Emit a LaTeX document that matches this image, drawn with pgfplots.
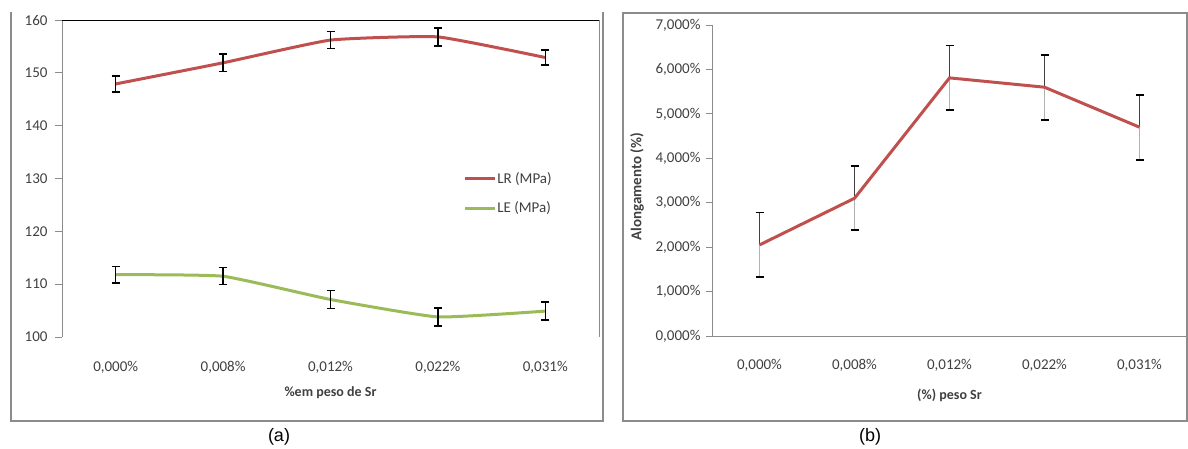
\documentclass[border=0pt]{standalone}
\usepackage{fontspec}
\setmainfont{Carlito}
\newfontfamily\arialfont{Liberation Sans}
\usepackage{pgfplots}
\usepackage{pgfplotstable}
\pgfplotsset{compat=1.18}
\definecolor{lrred}{HTML}{C0504D}
\definecolor{legreen}{HTML}{9BBB59}
\definecolor{axgray}{HTML}{8C8C8C}
\definecolor{txt}{HTML}{404040}

\pgfplotstableread{
x  y      e
0  147.9  1.5
1  151.9  1.7
2  156.2  1.6
3  156.8  1.7
4  152.9  1.45
}\lrdata
\pgfplotstableread{
x  y      e
0  111.8  1.6
1  111.5  1.6
2  107.1  1.7
3  103.8  1.7
4  104.9  1.7
}\ledata
\pgfplotstableread{
x  y     e
0  2.05  0.73
1  3.10  0.72
2  5.81  0.73
3  5.60  0.73
4  4.70  0.73
}\aldata

\begin{document}
\begin{tikzpicture}[x=1pt,y=1pt]
\path[use as bounding box] (0,0) rectangle (1188,448);
% panel frames
\draw[axgray, line width=1.5pt] (11,436) -- (11,27) -- (603,27) -- (603,436);
\draw[axgray, line width=1.5pt] (623,435) rectangle (1187,27);
\node[font=\arialfont\fontsize{18}{20}\selectfont] at (279,11) {(a)};
\node[font=\arialfont\fontsize{18}{20}\selectfont] at (870,11) {(b)};

\begin{axis}[
  at={(62pt,111pt)}, anchor=south west,
  width=537pt, height=317pt, scale only axis,
  xmin=-0.5, xmax=4.5, ymin=100, ymax=160,
  ytick={100,110,...,160},
  xtick={0,...,4},
  xticklabels={{0,000\%},{0,008\%},{0,012\%},{0,022\%},{0,031\%}},
  axis line style={draw=none},
  ytick pos=left, tick align=outside,
  major tick length=7pt,
  xtick style={draw=none},
  ytick style={axgray, line width=0.8pt},
  tick label style={font=\fontsize{15}{17}\selectfont, text=txt},
  /pgf/number format/assume math mode=true,
  xticklabel style={yshift=-14pt},
  yticklabel style={xshift=-4pt},
  xlabel={\%em peso de Sr},
  xlabel style={at={(axis description cs:0.5,0)}, anchor=center, yshift=-56pt, font=\bfseries\fontsize{14}{16}\selectfont, text=txt},
  legend style={at={(0.747,0.523)}, anchor=north west, draw=none, fill=none,
    font=\fontsize{15}{17}\selectfont, text=txt, row sep=15pt, inner sep=0pt,
    nodes={inner sep=1pt}},
  legend cell align=left,
  legend image code/.code={\draw[#1, line width=3pt] (0pt,0pt) -- (30pt,0pt);},
  after end axis/.code={
    \draw[axgray, line width=0.8pt] (rel axis cs:0,0) -- (rel axis cs:0,1);
    \draw[black, line width=1pt] (rel axis cs:0,1) -- (rel axis cs:1,1);
    \draw[axgray, line width=0.8pt] (rel axis cs:1,1) -- (rel axis cs:1,0);
  },
]
\addplot[lrred, line width=3pt, mark=none, smooth, tension=0.25,
  error bars/.cd, y dir=both, y explicit,
  error bar style={black, line width=1.4pt},
  error mark options={rotate=90, mark size=4pt, black, line width=1.4pt}]
  table[x=x, y=y, y error=e] {\lrdata};
\addlegendentry{LR (MPa)}
\addplot[legreen, line width=3pt, mark=none, smooth, tension=0.25,
  error bars/.cd, y dir=both, y explicit,
  error bar style={black, line width=1.4pt},
  error mark options={rotate=90, mark size=4pt, black, line width=1.4pt}]
  table[x=x, y=y, y error=e] {\ledata};
\addlegendentry{LE (MPa)}
\end{axis}

\begin{axis}[
  at={(712pt,112pt)}, anchor=south west,
  width=475pt, height=311pt, scale only axis,
  xmin=-0.5, xmax=4.5, ymin=0, ymax=7,
  ytick={0,...,7},
  yticklabels={{0,000\%},{1,000\%},{2,000\%},{3,000\%},{4,000\%},{5,000\%},{6,000\%},{7,000\%}},
  xtick={0,...,4},
  xticklabels={{0,000\%},{0,008\%},{0,012\%},{0,022\%},{0,031\%}},
  axis x line=bottom, axis y line=left,
  axis line style={-, axgray, line width=0.8pt},
  tick align=outside, major tick length=6pt,
  xtick style={draw=none},
  ytick style={axgray, line width=0.8pt},
  tick label style={font=\fontsize{15}{17}\selectfont, text=txt},
  xticklabel style={yshift=-14pt},
  yticklabel style={xshift=-2pt},
  xlabel={(\%) peso Sr},
  xlabel style={at={(axis description cs:0.5,0)}, anchor=center, yshift=-59pt, font=\bfseries\fontsize{14}{16}\selectfont, text=txt},
  ylabel={Alongamento (\%)},
  every axis y label/.style={at={(axis description cs:-0.158,0.48)}, anchor=center, rotate=90, font=\bfseries\fontsize{15}{17}\selectfont, text=txt},
]
\addplot[draw=none, mark=none, forget plot,
  error bars/.cd, y dir=plus, y explicit,
  error bar style={draw=txt, line width=1.6pt},
  error mark options={rotate=90, mark size=4pt, draw=black, line width=1.8pt}]
  table[x=x, y=y, y error=e] {\aldata};
\addplot[draw=none, mark=none, forget plot,
  error bars/.cd, y dir=minus, y explicit,
  error bar style={draw=gray!60, line width=1.6pt},
  error mark options={rotate=90, mark size=4pt, draw=black, line width=1.8pt}]
  table[x=x, y=y, y error=e] {\aldata};
\addplot[lrred, line width=3pt, mark=none] table[x=x, y=y] {\aldata};
\end{axis}
\end{tikzpicture}
\end{document}
